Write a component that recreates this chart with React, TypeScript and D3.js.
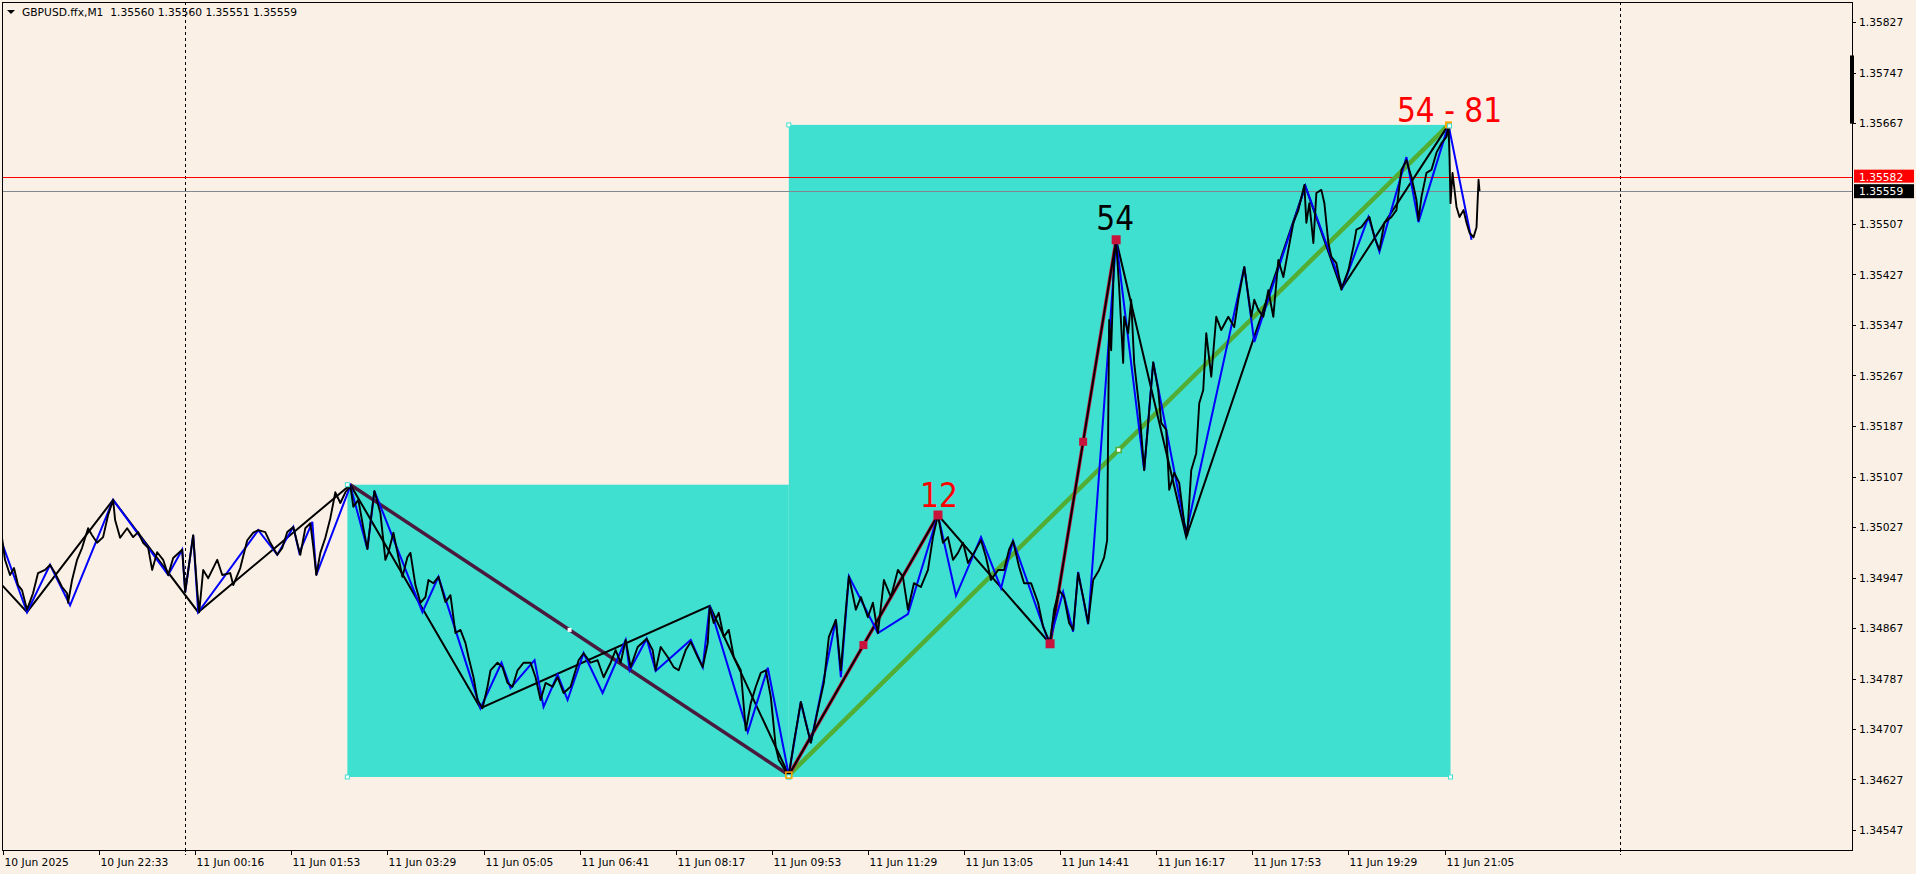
import React from 'react';
import * as d3 from 'd3';

// ---------- data ----------
const symbolTitle = 'GBPUSD.ffx,M1';
const ohlc = ['1.35560', '1.35560', '1.35551', '1.35559'];

const priceTicks = [1.34547, 1.34627, 1.34707, 1.34787, 1.34867, 1.34947, 1.35027, 1.35107, 1.35187, 1.35267, 1.35347, 1.35427, 1.35507, 1.35667, 1.35747, 1.35827];

const timeLabels = ['10 Jun 2025', '10 Jun 22:33', '11 Jun 00:16', '11 Jun 01:53', '11 Jun 03:29', '11 Jun 05:05', '11 Jun 06:41', '11 Jun 08:17', '11 Jun 09:53', '11 Jun 11:29', '11 Jun 13:05', '11 Jun 14:41', '11 Jun 16:17', '11 Jun 17:53', '11 Jun 19:29', '11 Jun 21:05'];
const barsPerLabel = 96;
const daySeparatorBars = [182, 1615];

// price path: bar index, price in points (1e-5)
const priceBars = [-1, 2, 7, 11, 15, 19, 24, 30, 35, 42, 47, 52, 59, 64, 65, 69, 74, 79, 85, 89, 94, 100, 105, 110, 112, 117, 124, 130, 135, 140, 145, 149, 154, 160, 165, 170, 179, 182, 190, 194, 196, 200, 205, 214, 219, 227, 230, 237, 244, 250, 255, 262, 267, 274, 279, 284, 290, 295, 297, 302, 307, 310, 313, 317, 322, 327, 332, 337, 342, 347,
  350, 355, 360, 364, 368, 371, 377, 382, 385, 390, 395, 399, 404, 407, 412, 417, 422, 425, 430, 435, 442, 447, 452, 457, 462, 465, 470, 474, 479, 484, 487, 494, 499, 504, 509, 514, 520, 527, 532, 537, 542, 549, 554, 560, 567, 575, 580, 587, 594, 600, 607, 612, 617, 622, 627, 634, 643, 649, 652, 657, 664, 670, 675, 682, 687, 694, 699, 704, 706, 710, 715, 720, 725, 730, 737, 742, 747, 752, 757, 762, 767, 772, 775, 780, 785,
  790, 797, 802, 807, 814, 820, 825, 832, 837, 842, 845, 852, 857, 864, 869, 874, 880, 887, 894, 899, 904, 910, 917, 924, 929, 934, 939, 944, 949, 954, 959, 964, 970, 977, 982, 987, 994, 1000, 1005, 1009, 1015, 1020, 1027, 1034, 1039, 1046, 1050, 1055, 1060, 1065, 1069, 1074, 1079, 1084, 1089, 1095, 1100, 1103, 1105, 1107, 1110, 1112, 1115, 1119, 1120, 1124, 1127, 1130, 1135, 1140, 1144, 1149, 1154, 1157, 1162, 1165, 1170, 1175, 1180, 1183, 1187, 1192, 1195, 1199, 1202, 1207, 1212, 1217, 1224, 1230, 1234, 1240, 1247, 1250, 1254, 1259, 1264, 1269, 1274, 1279, 1284, 1289, 1294, 1300, 1302, 1305, 1309, 1312, 1317, 1320, 1324, 1327, 1332, 1337, 1344, 1349, 1352, 1357, 1362, 1365, 1370, 1375, 1380, 1387, 1392, 1397, 1402, 1407, 1412, 1414, 1417, 1422, 1427, 1432, 1437, 1442, 1444, 1445, 1446, 1448, 1450, 1452, 1455, 1459, 1462, 1465, 1469, 1472, 1474, 1475];
const pricePoints = [135010, 134975, 134951, 134962, 134935, 134927, 134896, 134922, 134954, 134959, 134967, 134954, 134932, 134922, 134907, 134943, 134975, 134994, 135025, 135014, 135002, 135011, 135046, 135070, 135038, 135010, 135025, 135011, 135019, 135002, 134994, 134959, 134987, 134975, 134951, 134978, 134991, 134924, 135014, 134927, 134892, 134959, 134946, 134975, 134951, 134954, 134935, 134962, 135006, 135018, 135022, 135019, 135002, 134983, 134994, 135019, 135027, 134995, 134983, 135025, 135033, 134995, 134951, 134986, 135010, 135041, 135082, 135065, 135082, 135092,
  135059, 135070, 135025, 134992, 135046, 135084, 135049, 134975, 134987, 135018, 134979, 134948, 134979, 134986, 134935, 134907, 134916, 134943, 134938, 134948, 134908, 134919, 134859, 134864, 134843, 134821, 134789, 134753, 134740, 134774, 134800, 134812, 134805, 134780, 134774, 134800, 134812, 134812, 134789, 134753, 134780, 134774, 134789, 134764, 134774, 134816, 134827, 134812, 134816, 134789, 134812, 134832, 134812, 134848, 134805, 134837, 134850, 134832, 134800, 134837, 134821, 134805, 134800, 134832, 134845, 134821, 134805, 134843, 134900, 134875, 134891, 134853, 134864, 134821, 134800, 134705, 134748, 134774, 134796, 134800, 134758, 134678, 134658, 134645, 134634,
  134685, 134750, 134717, 134685, 134737, 134780, 134853, 134880, 134800, 134896, 134949, 134896, 134916, 134884, 134907, 134859, 134943, 134916, 134959, 134948, 134896, 134938, 134932, 134959, 135011, 135046, 135002, 135011, 134975, 134986, 135002, 134970, 134986, 135006, 134979, 134943, 134959, 134959, 134991, 135005, 134964, 134938, 134938, 134907, 134869, 134843, 134896, 134927, 134916, 134875, 134864, 134954, 134916, 134875, 134943, 134959, 134979, 135006, 135355, 135307, 135455, 135479, 135407, 135287, 135360, 135334, 135387, 135287, 135217, 135117, 135192, 135288, 135244, 135192, 135181, 135086, 135113, 135097, 135033, 135014, 135117, 135144, 135223, 135244, 135334, 135265, 135360, 135339, 135360, 135344, 135387, 135439, 135360, 135387, 135371, 135360, 135402, 135360, 135450, 135423, 135466, 135509, 135529, 135569, 135509, 135540, 135477, 135556, 135561, 135540, 135477, 135455, 135445, 135404, 135434, 135471, 135498, 135502, 135513, 135518, 135486, 135466, 135509, 135518, 135529, 135593, 135608, 135581, 135545, 135513, 135550, 135588, 135593, 135620, 135635, 135645, 135664, 135613, 135540, 135588, 135561, 135534, 135518, 135529, 135509, 135493, 135486, 135502, 135577, 135559];

// medium zigzag (black)
const zigBlackBars = [-1, 24, 110, 195, 347, 477, 706, 785, 934, 1046, 1112, 1182, 1301, 1337, 1444];
const zigBlackPoints = [134935, 134892, 135070, 134892, 135094, 134740, 134902, 134634, 135046, 134842, 135482, 135011, 135567, 135404, 135664];

// small zigzag (blue)
const zigBlueBars = [-1, 24, 47, 67, 110, 165, 179, 182, 190, 195, 255, 274, 290, 296, 309, 313, 347, 364, 371, 419, 435, 477, 498, 507, 531, 540, 554, 564, 580, 599, 622, 626, 643, 652, 687, 699, 706, 744, 764, 785, 797, 807, 832, 837, 845, 874, 904, 934, 952, 977, 997, 1009, 1045, 1059, 1069, 1074, 1084, 1112, 1140, 1149, 1182, 1240, 1250, 1301, 1338, 1364, 1375, 1402, 1414, 1444, 1467];
const zigBluePoints = [135002, 134892, 134967, 134903, 135070, 134951, 134991, 134924, 135014, 134892, 135022, 134983, 135027, 134986, 135035, 134951, 135092, 134992, 135084, 134892, 134948, 134740, 134812, 134772, 134816, 134742, 134793, 134753, 134827, 134764, 134848, 134800, 134850, 134799, 134848, 134805, 134902, 134702, 134804, 134634, 134750, 134685, 134880, 134789, 134949, 134859, 134889, 135046, 134918, 135011, 134930, 135005, 134843, 134924, 134861, 134956, 134873, 135482, 135117, 135288, 135018, 135439, 135320, 135567, 135406, 135518, 135463, 135613, 135510, 135664, 135482];

// rectangles
const boxStartBars = [344, 785];
const boxEndBars = [785, 1446];
const boxTopPoints = [135094, 135664];
const boxBottomPoints = [134631, 134631];

// trend lines [bar1, pts1, bar2, pts2]
const maroonLine = [347, 135094, 785, 134634];
const greenLine = [785, 134634, 1444, 135664];
const crimsonLines = [[785, 134634, 934, 135046], [1046, 134842, 1112, 135482]];

// text labels
const waveLabels = [
  { text: '12', bar: 935, pts: 135046, color: '#ff0000', dy: -8 },
  { text: '54', bar: 1111, pts: 135482, color: '#000000', dy: -10 },
  { text: '54 - 81', bar: 1445, pts: 135664, color: '#ff0000', dy: -3 },
];

const askPrice = 1.35582;
const bidPrice = 1.35559;

// ---------- layout ----------
const W = 1916;
const H = 874;
const PL = 2, PT = 2, PR = 1852, PB = 850;
const BG = '#FAF0E6';
const TURQ = '#40E0D0';
const FONT = "'DejaVu Sans', Verdana, sans-serif";

const xs = d3.scaleLinear().domain([0, 1440]).range([3, 1444.5]);
const ys = d3.scaleLinear().domain([1.34547, 1.35827]).range([830, 22]);
const P = (v: number) => ys(v / 1e5);

function pathOf(bars: number[], pts: number[]) {
  const line = d3.line<number>().x((i) => xs(bars[i])).y((i) => P(pts[i]));
  return line(d3.range(bars.length)) || '';
}

const Sq = ({ x, y, s, fill, stroke, sw = 1 }: any) => (
  <rect x={x - s / 2} y={y - s / 2} width={s} height={s} fill={fill} stroke={stroke} strokeWidth={sw} />
);

export default function App() {
  const fs = 10.7;
  return (
    <div style={{ position: 'absolute', left: 0, top: 0 }}>
      <svg width={W} height={H} style={{ display: 'block', background: BG }}>
        <defs>
          <clipPath id="plot">
            <rect x={PL} y={PT} width={PR - PL} height={PB - PT} />
          </clipPath>
        </defs>
        <rect x={0} y={0} width={W} height={H} fill={BG} />
        <g clipPath="url(#plot)">
          {boxStartBars.map((b, i) => (
            <rect key={i} x={xs(b)} y={P(boxTopPoints[i])} width={xs(boxEndBars[i]) - xs(b)} height={P(boxBottomPoints[i]) - P(boxTopPoints[i])} fill={TURQ} />
          ))}
          {daySeparatorBars.map((b, i) => (
            <line key={i} x1={Math.round(xs(b)) + 0.5} x2={Math.round(xs(b)) + 0.5} y1={PT} y2={PB} stroke="#000" strokeDasharray="3,3" />
          ))}
          <line x1={PL} x2={PR} y1={Math.round(ys(askPrice)) + 0.5} y2={Math.round(ys(askPrice)) + 0.5} stroke="#ff0000" />
          <line x1={PL} x2={PR} y1={Math.round(ys(bidPrice)) + 0.5} y2={Math.round(ys(bidPrice)) + 0.5} stroke="#808890" />
          <line x1={xs(maroonLine[0])} y1={P(maroonLine[1])} x2={xs(maroonLine[2])} y2={P(maroonLine[3])} stroke="#4a1a3e" strokeWidth={3.5} />
          <line x1={xs(greenLine[0])} y1={P(greenLine[1])} x2={xs(greenLine[2])} y2={P(greenLine[3])} stroke="#52ad35" strokeWidth={4.5} />
          {crimsonLines.map((l, i) => (
            <line key={i} x1={xs(l[0])} y1={P(l[1])} x2={xs(l[2])} y2={P(l[3])} stroke="#c8143c" strokeWidth={3.5} />
          ))}
          <path d={pathOf(zigBlackBars, zigBlackPoints)} fill="none" stroke="#000" strokeWidth={2} />
          <path d={pathOf(zigBlueBars, zigBluePoints)} fill="none" stroke="#0000ff" strokeWidth={2} />
          <path d={pathOf(priceBars, pricePoints)} fill="none" stroke="#000" strokeWidth={1.9} strokeLinejoin="round" />
          {crimsonLines.map((l, i) => (
            <g key={i}>
              <Sq x={xs(l[2])} y={P(l[3])} s={9} fill="#c8143c" stroke="none" />
              <Sq x={xs((l[0] + l[2]) / 2)} y={(P(l[1]) + P(l[3])) / 2} s={8} fill="#c8143c" stroke="none" />
              {i === 1 && <Sq x={xs(l[0])} y={P(l[1])} s={9} fill="#c8143c" stroke="none" />}
            </g>
          ))}
          <Sq x={xs((maroonLine[0] + maroonLine[2]) / 2)} y={(P(maroonLine[1]) + P(maroonLine[3])) / 2} s={4} fill="#fff" stroke="none" />
          <Sq x={xs((greenLine[0] + greenLine[2]) / 2)} y={(P(greenLine[1]) + P(greenLine[3])) / 2} s={5} fill="#fff" stroke="#52ad35" sw={1.5} />
          {boxStartBars.map((b, i) => (
            <g key={i}>
              <Sq x={xs(b)} y={P(boxTopPoints[i])} s={4} fill="#fff" stroke={TURQ} />
              <Sq x={xs(b)} y={P(boxBottomPoints[i])} s={4} fill="#fff" stroke={TURQ} />
              <Sq x={xs(boxEndBars[i])} y={P(boxBottomPoints[i])} s={4} fill="#fff" stroke={TURQ} />
            </g>
          ))}
          <Sq x={xs(greenLine[0])} y={P(greenLine[1])} s={6} fill="none" stroke="#ffa500" sw={1.5} />
          <Sq x={xs(greenLine[2])} y={P(greenLine[3])} s={7} fill="#ffa500" stroke="none" />
          <Sq x={xs(greenLine[2]) + 1} y={P(greenLine[3]) + 1} s={4} fill="#fff" stroke={TURQ} />
          {waveLabels.map((l, i) => (
            <text key={i} x={xs(l.bar)} y={P(l.pts) + l.dy} textAnchor="middle" fontFamily="'DejaVu Sans Condensed', 'Noto Sans', sans-serif" fontSize={33} fill={l.color}>{l.text}</text>
          ))}
        </g>
        <rect x={PL + 0.5} y={PT + 0.5} width={PR - PL} height={PB - PT} fill="none" stroke="#000" />
        <rect x={PR - 2} y={ys(1.35774)} width={4} height={ys(1.35666) - ys(1.35774)} fill="#000" />
        {priceTicks.map((t, i) => (
          <g key={i}>
            <line x1={PR} x2={PR + 4} y1={Math.round(ys(t)) + 0.5} y2={Math.round(ys(t)) + 0.5} stroke="#000" />
            <text x={PR + 7} y={ys(t) + 4} fontFamily={FONT} fontSize={fs} fill="#000">{t.toFixed(5)}</text>
          </g>
        ))}
        <rect x={PR + 2} y={ys(askPrice) - 7} width={60} height={13} fill="#ff0000" />
        <text x={PR + 7} y={ys(askPrice) + 4} fontFamily={FONT} fontSize={fs} fill="#fff">{askPrice.toFixed(5)}</text>
        <rect x={PR + 2} y={ys(bidPrice) - 7} width={60} height={14} fill="#000" />
        <text x={PR + 7} y={ys(bidPrice) + 4} fontFamily={FONT} fontSize={fs} fill="#fff">{bidPrice.toFixed(5)}</text>
        {timeLabels.map((t, i) => {
          const x = Math.round(xs(i * barsPerLabel)) + 0.5;
          return (
            <g key={i}>
              <line x1={x} x2={x} y1={PB} y2={PB + 5} stroke="#000" />
              <text x={x + 1} y={PB + 16} fontFamily={FONT} fontSize={fs} fill="#000">{t}</text>
            </g>
          );
        })}
        {daySeparatorBars.map((b, i) => (
          <line key={i} x1={Math.round(xs(b)) + 0.5} x2={Math.round(xs(b)) + 0.5} y1={PB} y2={PB + 5} stroke="#000" strokeDasharray="2,2" />
        ))}
        <path d="M7,10 L15,10 L11,14 Z" fill="#000" />
        <text x={22} y={16} fontFamily={FONT} fontSize={fs} fill="#000" xmlSpace="preserve">{symbolTitle + '  ' + ohlc.join(' ')}</text>
      </svg>
    </div>
  );
}
